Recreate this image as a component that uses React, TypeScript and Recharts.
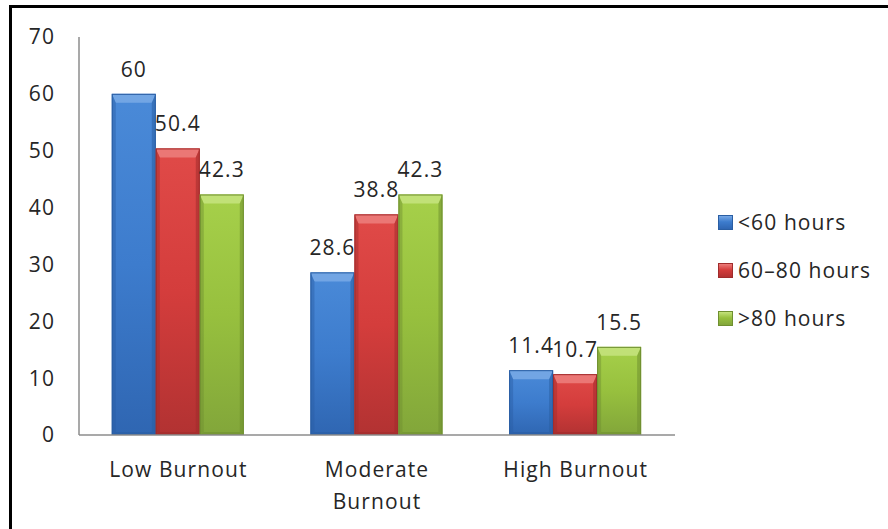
import { Bar, BarChart, LabelList, XAxis, YAxis } from "recharts";

// hours worked per week vs. burnout level (%)
const categories = ["Low Burnout", "Moderate\nBurnout", "High Burnout"];
const under60 = [60, 28.6, 11.4];
const from60to80 = [50.4, 38.8, 10.7];
const over80 = [42.3, 42.3, 15.5];
const seriesNames = ["<60 hours", "60–80 hours", ">80 hours"];
const yTicks = [0, 10, 20, 30, 40, 50, 60, 70];

const data = categories.map((category, i) => ({
  category,
  under60: under60[i],
  from60to80: from60to80[i],
  over80: over80[i],
}));

const FONT = "'Open Sans', sans-serif";
const TEXT = "#262626";
const SPACING = "1.1px";

type Palette = { id: string; top: string; base: string; bottom: string; bevel: string; edge: string };

const palettes: Palette[] = [
  { id: "blue", top: "#4a8ad8", base: "#3d7ccd", bottom: "#2f66b2", bevel: "#77a8e6", edge: "#2a5ea3" },
  { id: "red", top: "#e04a48", base: "#d43d3c", bottom: "#b23232", bevel: "#ec7c7a", edge: "#a02c2c" },
  { id: "green", top: "#a6d04a", base: "#97c03e", bottom: "#82a63a", bevel: "#c4e27c", edge: "#6f8f30" },
];

function BevelBar(props: any) {
  const { x, y, width, height, palette } = props;
  if (!height || height <= 0) return null;
  const p: Palette = palette;
  const t = Math.min(9, height / 2);
  const s = Math.min(4, width / 4);
  const b = Math.min(3, height / 4);
  return (
    <g>
      <rect x={x} y={y} width={width} height={height} fill={`url(#body-${p.id})`} />
      <polygon
        points={`${x},${y} ${x + width},${y} ${x + width - s},${y + t} ${x + s},${y + t}`}
        fill={p.bevel}
        opacity={0.9}
      />
      <polygon
        points={`${x},${y} ${x + s},${y + t} ${x + s},${y + height - b} ${x},${y + height}`}
        fill={p.edge}
        opacity={0.45}
      />
      <polygon
        points={`${x + width},${y} ${x + width - s},${y + t} ${x + width - s},${y + height - b} ${x + width},${y + height}`}
        fill={p.edge}
        opacity={0.55}
      />
      <polygon
        points={`${x},${y + height} ${x + s},${y + height - b} ${x + width - s},${y + height - b} ${x + width},${y + height}`}
        fill={p.edge}
        opacity={0.6}
      />
      <rect x={x + 0.5} y={y + 0.5} width={width - 1} height={height - 1} fill="none" stroke={p.edge} strokeWidth={1} />
    </g>
  );
}

function CategoryTick({ x, y, payload }: any) {
  const lines = String(payload.value).split("\n");
  return (
    <text
      x={x}
      y={y}
      textAnchor="middle"
      fill={TEXT}
      fontSize={21}
      fontFamily={FONT}
      style={{ letterSpacing: SPACING }}
    >
      {lines.map((line, i) => (
        <tspan key={i} x={x} dy={i === 0 ? 40 : 32}>
          {line}
        </tspan>
      ))}
    </text>
  );
}

// series key, drawn beside the plot in series order
function SeriesKey() {
  return (
    <div
      style={{
        position: "absolute",
        left: 718,
        top: 198,
        fontFamily: FONT,
        fontSize: 21,
        color: TEXT,
        letterSpacing: SPACING,
      }}
    >
      {seriesNames.map((name, i) => {
        const p = palettes[i];
        return (
          <div key={name} style={{ display: "flex", alignItems: "center", height: 48 }}>
            <span
              style={{
                display: "inline-block",
                width: 15,
                height: 15,
                marginRight: 5,
                boxSizing: "border-box",
                border: `1px solid ${p.edge}`,
                background: `linear-gradient(${p.bevel}, ${p.base} 45%, ${p.bottom})`,
              }}
            />
            <span>{name}</span>
          </div>
        );
      })}
    </div>
  );
}

export default function App() {
  const keys = ["under60", "from60to80", "over80"];
  return (
    <div
      style={{
        position: "absolute",
        left: 0,
        top: 0,
        width: 888,
        height: 529,
        overflow: "hidden",
        background: "#fff",
      }}
    >
      <div
        style={{
          position: "absolute",
          left: 9,
          top: 5,
          width: 920,
          height: 560,
          borderLeft: "3px solid #000",
          borderTop: "3px solid #000",
        }}
      />
      <div style={{ position: "absolute", left: 0, top: 0 }}>
        <BarChart
          width={888}
          height={529}
          data={data}
          margin={{ top: 37, right: 213, bottom: 64, left: 0 }}
          barCategoryGap="16.5%"
          barGap={0}
        >
          <defs>
            {palettes.map((p) => (
              <linearGradient key={p.id} id={`body-${p.id}`} x1="0" y1="0" x2="0" y2="1">
                <stop offset="0%" stopColor={p.top} />
                <stop offset="50%" stopColor={p.base} />
                <stop offset="100%" stopColor={p.bottom} />
              </linearGradient>
            ))}
          </defs>
          <XAxis
            dataKey="category"
            height={30}
            axisLine={{ stroke: "#8c8c8c", strokeWidth: 1.5 }}
            tickLine={false}
            tickSize={0}
            tick={<CategoryTick />}
            interval={0}
          />
          <YAxis
            width={79}
            domain={[0, 70]}
            ticks={yTicks}
            axisLine={{ stroke: "#8c8c8c", strokeWidth: 1.5 }}
            tickLine={false}
            tickSize={0}
            tickMargin={24}
            tick={{ fill: TEXT, fontSize: 21, fontFamily: FONT, letterSpacing: SPACING }}
          />
          {keys.map((key, i) => (
            <Bar
              key={key}
              dataKey={key}
              name={seriesNames[i]}
              fill={palettes[i].base}
              isAnimationActive={false}
              shape={(props: any) => <BevelBar {...props} palette={palettes[i]} />}
            >
              <LabelList
                dataKey={key}
                position="top"
                offset={17}
                fill={TEXT}
                fontSize={21}
                fontFamily={FONT}
                style={{ letterSpacing: SPACING }}
              />
            </Bar>
          ))}
        </BarChart>
      </div>
      <SeriesKey />
    </div>
  );
}
